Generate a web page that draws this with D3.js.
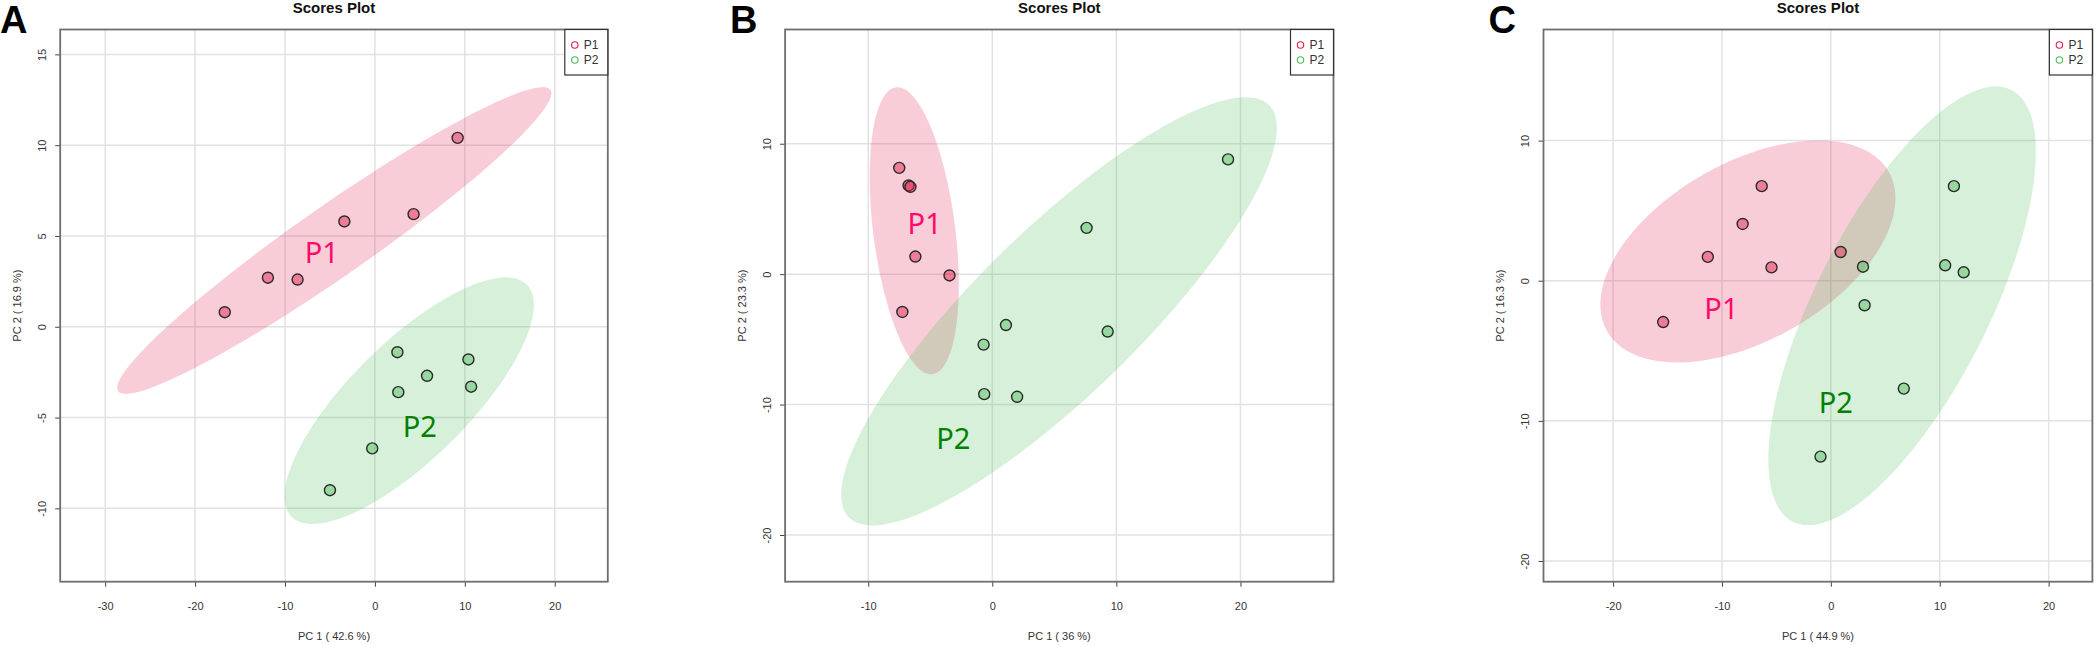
<!DOCTYPE html>
<html>
<head>
<meta charset="utf-8">
<script src="https://cdn.jsdelivr.net/npm/d3@7"></script>
<style>
body { margin: 0; background: #fff; }
text { font-family: "Liberation Sans", Arial, sans-serif; }
</style>
</head>
<body>
<div id="chart"></div>
<script>
var width = 2100
var height = 645

var groups = ["P1", "P2"]

// scores, [PC1, PC2]
var aP1 = [[-16.7, 0.8], [-11.9, 2.7], [-8.6, 2.6], [-3.4, 5.8], [4.3, 6.2], [9.2, 10.4]]
var aP2 = [[2.5, -1.4], [10.4, -1.8], [5.8, -2.7], [10.7, -3.3], [2.6, -3.6], [-0.3, -6.7], [-5.0, -9.0]]
var aXTicks = [-30, -20, -10, 0, 10, 20]
var aYTicks = [-10, -5, 0, 5, 10, 15]

var bP1 = [[-7.5, 8.15], [-6.75, 6.8], [-6.6, 6.7], [-6.2, 1.35], [-3.45, -0.1], [-7.25, -2.9]]
var bP2 = [[19.0, 8.8], [7.6, 3.55], [1.1, -3.9], [9.3, -4.4], [-0.7, -5.4], [-0.65, -9.2], [2.0, -9.4]]
var bXTicks = [-10, 0, 10, 20]
var bYTicks = [-20, -10, 0, 10]

var cP1 = [[-6.35, 6.75], [-8.1, 4.05], [-11.3, 1.7], [-5.45, 0.95], [0.9, 2.05], [-15.4, -2.95]]
var cP2 = [[11.3, 6.75], [2.95, 1.0], [10.5, 1.1], [12.2, 0.6], [3.1, -1.75], [6.7, -7.7], [-0.95, -12.55]]
var cXTicks = [-20, -10, 0, 10, 20]
var cYTicks = [-20, -10, 0, 10]

var letters = ["A", "B", "C"]
var xLabels = ["PC 1 ( 42.6 %)", "PC 1 ( 36 %)", "PC 1 ( 44.9 %)"]
var yLabels = ["PC 2 ( 16.9 %)", "PC 2 ( 23.3 %)", "PC 2 ( 16.3 %)"]

// where the group names sit, in data units
var nameSpots = [[[-5.9, 4.1], [5.0, -5.5]], [[-5.45, 3.9], [-3.15, -12.6]], [[-10.05, -2.0], [0.45, -8.7]]]

var panels = [
    {pts: [aP1, aP2], xt: aXTicks, yt: aYTicks, xdom: [-35, 25.9], ydom: [-14.04, 16.37], left: 60.2, right: 607.8, lx: 0},
    {pts: [bP1, bP2], xt: bXTicks, yt: bYTicks, xdom: [-16.7, 27.5], ydom: [-23.58, 18.76], left: 785.1, right: 1333.5, lx: 730},
    {pts: [cP1, cP2], xt: cXTicks, yt: cYTicks, xdom: [-26.39, 24.02], ydom: [-21.48, 17.93], left: 1543.5, right: 2092.4, lx: 1488.6}
]

var TOP = 29.5
var BOTTOM = 581.7

var baseCol = ["rgb(223,28,73)", "rgb(73,187,87)"]
var nameCol = ["#ff0a6a", "#008000"]

// 95% region, same as sqrt(qchisq(0.95, 2))
var T = Math.sqrt(-2 * Math.log(0.05))

var svg = d3.select("#chart")
    .append("svg")
    .attr("width", width)
    .attr("height", height)

svg.append("rect").attr("width", width).attr("height", height).attr("fill", "#fff")


function ellipse(pts){
    var n = pts.length
    var mx = d3.mean(pts, d => d[0])
    var my = d3.mean(pts, d => d[1])
    var sxx = d3.sum(pts, d => (d[0] - mx) * (d[0] - mx)) / (n - 1)
    var syy = d3.sum(pts, d => (d[1] - my) * (d[1] - my)) / (n - 1)
    var sxy = d3.sum(pts, d => (d[0] - mx) * (d[1] - my)) / (n - 1)
    var tr = sxx + syy
    var det = sxx * syy - sxy * sxy
    var root = Math.sqrt(tr * tr / 4 - det)
    var l1 = tr / 2 + root
    var l2 = Math.max(tr / 2 - root, 0)
    var ang = 0.5 * Math.atan2(2 * sxy, sxx - syy)
    return d3.range(100).map(function(i){
        var a = 2 * Math.PI * i / 100
        var u = T * Math.sqrt(l1) * Math.cos(a)
        var v = T * Math.sqrt(l2) * Math.sin(a)
        return [mx + u * Math.cos(ang) - v * Math.sin(ang), my + u * Math.sin(ang) + v * Math.cos(ang)]
    })
}


function drawPanel(p, i){

    var x = d3.scaleLinear().domain(p.xdom).range([p.left, p.right])
    var y = d3.scaleLinear().domain(p.ydom).range([BOTTOM, TOP])
    var g = svg.append("g")
    var cx = (p.left + p.right) / 2

    g.append("clipPath").attr("id", "clip" + i)
        .append("rect")
        .attr("x", p.left).attr("y", TOP)
        .attr("width", p.right - p.left).attr("height", BOTTOM - TOP)

    // grid
    g.selectAll(".gx")
        .data(p.xt)
        .enter()
        .append("line")
        .attr("x1", d => x(d)).attr("x2", d => x(d))
        .attr("y1", TOP).attr("y2", BOTTOM)
        .attr("stroke", "#e2e2e2")
        .attr("stroke-width", 1.5)

    g.selectAll(".gy")
        .data(p.yt)
        .enter()
        .append("line")
        .attr("x1", p.left).attr("x2", p.right)
        .attr("y1", d => y(d)).attr("y2", d => y(d))
        .attr("stroke", "#e2e2e2")
        .attr("stroke-width", 1.5)

    var line = d3.line()
        .x(d => x(d[0]))
        .y(d => y(d[1]))
        .curve(d3.curveLinearClosed)

    var inner = g.append("g").attr("clip-path", "url(#clip" + i + ")")

    p.pts.forEach(function(pts, k){
        inner.append("path")
            .attr("d", line(ellipse(pts)))
            .attr("fill", baseCol[k])
            .attr("fill-opacity", 0.22)
    })

    p.pts.forEach(function(pts, k){
        inner.selectAll(".pt" + k)
            .data(pts)
            .enter()
            .append("circle")
            .attr("cx", d => x(d[0]))
            .attr("cy", d => y(d[1]))
            .attr("r", 5.5)
            .attr("fill", baseCol[k])
            .attr("fill-opacity", 0.45)
            .attr("stroke", "#2a2a2a")
            .attr("stroke-width", 1.4)
    })

    nameSpots[i].forEach(function(s, k){
        g.append("text")
            .attr("x", x(s[0]))
            .attr("y", y(s[1]))
            .attr("dy", "0.36em")
            .attr("text-anchor", "middle")
            .style("font-family", "'Noto Sans', sans-serif")
            .style("font-size", "29px")
            .attr("fill", nameCol[k])
            .text(groups[k])
    })

    // axes
    var xAxis = g.append("g")
        .attr("transform", "translate(0," + BOTTOM + ")")
        .attr("color", "#444")
        .call(d3.axisBottom(x).tickValues(p.xt).tickSize(5).tickPadding(16).tickFormat(d => String(d)))
    xAxis.select(".domain").remove()
    xAxis.selectAll("text").style("font-size", "11px").attr("fill", "#333")

    var yAxis = g.append("g")
        .attr("transform", "translate(" + p.left + ",0)")
        .attr("color", "#444")
        .call(d3.axisLeft(y).tickValues(p.yt).tickSize(5).tickFormat(d => String(d)))
    yAxis.select(".domain").remove()
    yAxis.selectAll("text")
        .attr("x", 0)
        .attr("dy", "0.36em")
        .attr("text-anchor", "middle")
        .attr("transform", "translate(-18,0) rotate(-90)")
        .style("font-size", "11px")
        .attr("fill", "#333")

    g.append("rect")
        .attr("x", p.left).attr("y", TOP)
        .attr("width", p.right - p.left).attr("height", BOTTOM - TOP)
        .attr("fill", "none")
        .attr("stroke", "#6e6e6e")
        .attr("stroke-width", 1.8)

    // legend
    var lg = g.append("g").attr("transform", "translate(" + (p.right - 43) + "," + TOP + ")")
    lg.append("rect")
        .attr("width", 43).attr("height", 45.5)
        .attr("fill", "#fff")
        .attr("stroke", "#333")
        .attr("stroke-width", 1.2)
    groups.forEach(function(name, k){
        lg.append("circle")
            .attr("cx", 10).attr("cy", 15.5 + k * 15)
            .attr("r", 3.2)
            .attr("fill", "none")
            .attr("stroke", baseCol[k])
            .attr("stroke-width", 1.1)
        lg.append("text")
            .attr("x", 19).attr("y", 15.5 + k * 15)
            .attr("dy", "0.36em")
            .style("font-size", "12px")
            .attr("fill", "#333")
            .text(name)
    })

    // texts
    g.append("text")
        .attr("x", cx).attr("y", 13)
        .attr("text-anchor", "middle")
        .style("font-size", "15px")
        .style("font-weight", "bold")
        .attr("fill", "#111")
        .text("Scores Plot")

    g.append("text")
        .attr("x", cx).attr("y", 640)
        .attr("text-anchor", "middle")
        .style("font-size", "11px")
        .attr("fill", "#333")
        .text(xLabels[i])

    g.append("text")
        .attr("transform", "translate(" + (p.left - 43) + "," + ((TOP + BOTTOM) / 2) + ") rotate(-90)")
        .attr("dy", "0.36em")
        .attr("text-anchor", "middle")
        .style("font-size", "11px")
        .attr("fill", "#333")
        .text(yLabels[i])

    g.append("text")
        .attr("x", p.lx).attr("y", 33)
        .style("font-size", "38px")
        .style("font-weight", "bold")
        .attr("fill", "#000")
        .text(letters[i])
}

panels.forEach(drawPanel)
</script>
</body>
</html>
